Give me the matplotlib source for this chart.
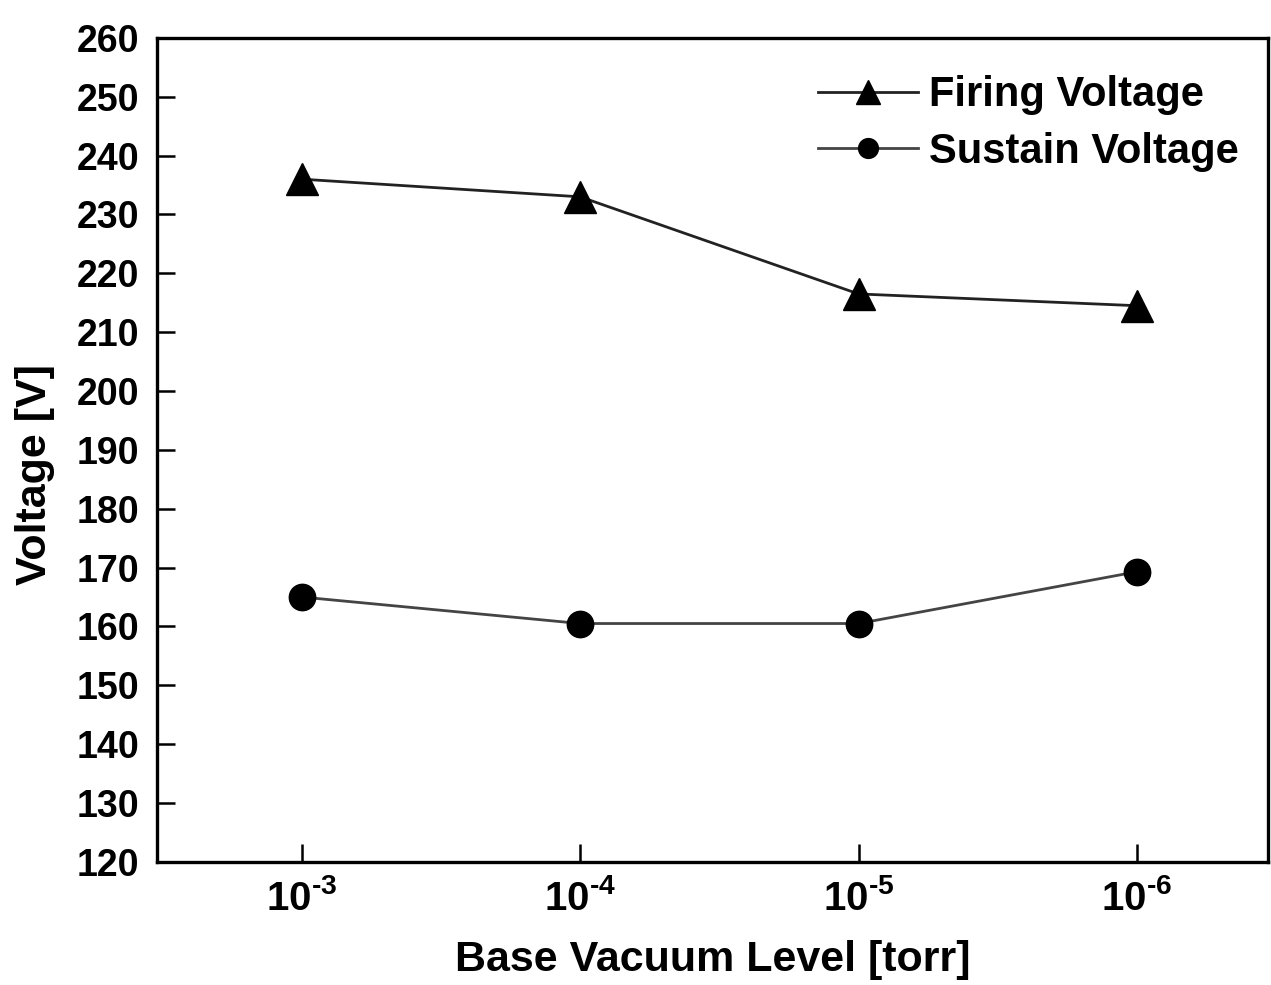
import matplotlib.pyplot as plt

plt.rcParams['font.family'] = ['Liberation Sans', 'DejaVu Sans']
plt.rcParams['font.weight'] = 'bold'
plt.rcParams['mathtext.fontset'] = 'custom'
plt.rcParams['mathtext.rm'] = 'Liberation Sans:bold'
plt.rcParams['mathtext.bf'] = 'Liberation Sans:bold'
plt.rcParams['mathtext.default'] = 'bf'

vacuum_labels = ['$10^{\\text{-3}}$', '$10^{\\text{-4}}$', '$10^{\\text{-5}}$', '$10^{\\text{-6}}$']
firing_voltage = [236, 233, 216.5, 214.5]
sustain_voltage = [165, 160.5, 160.5, 169.3]

fig = plt.figure(figsize=(12.71, 9.85), dpi=100)
ax = fig.add_axes([0.1235, 0.125, 0.874, 0.8365])

x = list(range(len(vacuum_labels)))
ax.plot(x, firing_voltage, color='#222222', lw=2, marker='^', ms=23,
        mfc='black', mec='black', label='Firing Voltage')
ax.plot(x, sustain_voltage, color='#444444', lw=2, marker='o', ms=19,
        mfc='black', mec='black', label='Sustain Voltage')

ax.set_xlim(-0.52, 3.47)
ax.set_ylim(120, 260)
ax.set_yticks(range(120, 261, 10))
ax.set_xticks(x)
ax.set_xticklabels(vacuum_labels)

ax.tick_params(direction='in', length=13, width=1.8, labelsize=27)
ax.tick_params(axis='x', pad=12, labelsize=29)
ax.tick_params(axis='y', pad=13)
for s in ax.spines.values():
    s.set_linewidth(2.4)

ax.set_xlabel('Base Vacuum Level [torr]', fontsize=31, fontweight='bold', labelpad=16)
ax.set_ylabel('Voltage [V]', fontsize=31, fontweight='bold')
ax.yaxis.set_label_coords(-0.092, 0.47)

ax.legend(loc='upper right', frameon=False, fontsize=30, handlelength=2.4,
          handletextpad=0.25, borderaxespad=0.3, labelspacing=0.4,
          markerscale=0.75, bbox_to_anchor=(1.0, 0.99))

fig.savefig('out.png', dpi=100)
